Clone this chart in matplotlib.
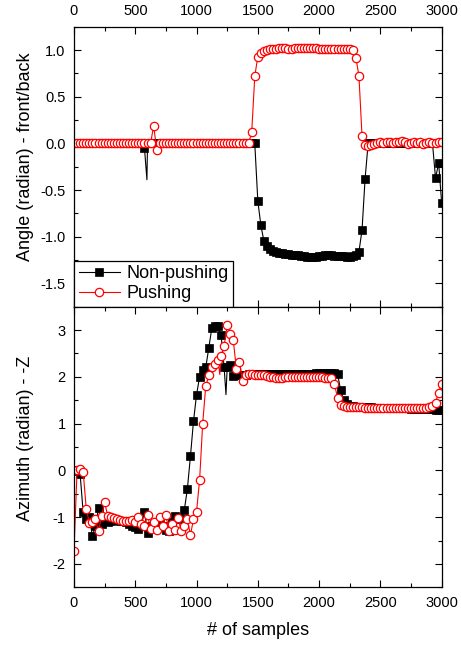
import numpy as np
import matplotlib
matplotlib.use("Agg")
import matplotlib.pyplot as plt
from matplotlib.ticker import MultipleLocator

plt.rcParams['font.family'] = ['Liberation Sans', 'DejaVu Sans']
plt.rcParams['axes.unicode_minus'] = False

# ---------------- data ----------------
# sample positions of the plotted points (every 25 samples)
samples = np.arange(0, 3001, 25)

# Top panel: Angle (radian) - front/back
angle_nonpushing = [
    0.0, 0.0, 0.0, 0.0, 0.0, 0.0, 0.0, 0.0, 0.0, 0.0,
    0.0, 0.0, 0.0, 0.0, 0.0, 0.0, 0.0, 0.0, 0.0, 0.0,
    0.0, 0.0, 0.0, -0.05,
    0.0, 0.0, 0.0, 0.0, 0.0, 0.0, 0.0, 0.0, 0.0, 0.0,
    0.0, 0.0, 0.0, 0.0, 0.0, 0.0, 0.0, 0.0, 0.0, 0.0,
    0.0, 0.0, 0.0, 0.0, 0.0, 0.0, 0.0, 0.0, 0.0, 0.0,
    0.0, 0.0, 0.0, 0.0, 0.0, 0.0,
    -0.62, -0.88, -1.05, -1.10, -1.13, -1.15, -1.16, -1.17, -1.18, -1.19,
    -1.19, -1.20, -1.20, -1.20, -1.21, -1.21, -1.22, -1.22, -1.22, -1.22,
    -1.21, -1.21, -1.20, -1.20, -1.20, -1.21, -1.21, -1.21, -1.21, -1.22,
    -1.22, -1.21, -1.20, -1.16, -0.93, -0.38,
    0.0, 0.0, 0.0, 0.0, 0.0, 0.0, 0.0, 0.0, 0.0, 0.0,
    0.0, 0.0, 0.0, 0.0, 0.0, 0.0, 0.0, 0.0, 0.0, 0.0,
    0.0, 0.0,
    -0.375, -0.21, -0.64,
]
angle_pushing = [
    0.0, 0.0, 0.0, 0.0, 0.0, 0.0, 0.0, 0.0, 0.0, 0.0,
    0.0, 0.0, 0.0, 0.0, 0.0, 0.0, 0.0, 0.0, 0.0, 0.0,
    0.0, 0.0, 0.0, 0.0, 0.0, 0.0,
    0.19, -0.07,
    0.0, 0.0, 0.0, 0.0, 0.0, 0.0, 0.0, 0.0, 0.0, 0.0,
    0.0, 0.0, 0.0, 0.0, 0.0, 0.0, 0.0, 0.0, 0.0, 0.0,
    0.0, 0.0, 0.0, 0.0, 0.0, 0.0, 0.0, 0.0, 0.0, 0.0,
    0.12, 0.72, 0.93, 0.97, 0.99, 1.00,
    1.01, 1.01, 1.01, 1.02, 1.02, 1.02, 1.01, 1.01, 1.02, 1.02,
    1.02, 1.02, 1.02, 1.02, 1.02, 1.02, 1.01, 1.01, 1.01, 1.01,
    1.01, 1.01, 1.01, 1.01, 1.01, 1.01, 1.01, 1.00,
    0.92, 0.72, 0.08, -0.02, -0.03, -0.02, -0.01,
    0.0, 0.01, 0.0, 0.01, 0.01, 0.0, 0.01, 0.02, 0.03, 0.02,
    -0.01, 0.0, 0.01, 0.0, 0.01, -0.01, 0.0, 0.01, 0.0, 0.0,
    0.01, 0.01,
]
# short spikes drawn by the line only (no marker): (sample, value)
angle_nonpushing_spike_x = [595]
angle_nonpushing_spike_y = [-0.39]

# Bottom panel: Azimuth (radian) - -Z
azimuth_nonpushing = [
    0.0, -0.02, -0.08, -0.90, -1.05, -1.00, -1.40, -1.20, -0.80, -1.15,
    -1.05, -1.10, -1.08, -1.05, -1.07, -1.08, -1.08, -1.10, -1.15, -1.20,
    -1.22, -1.25, -1.18, -0.88, -1.33, -1.20, -1.15, -1.10, -1.15, -1.20,
    -1.28, -1.30, -1.10, -0.98, -1.02, -1.05, -0.85, -0.40, 0.30, 1.05,
    1.62, 2.00, 2.15, 2.20, 2.62, 3.05, 3.08, 3.08, 2.90, 2.20,
    2.20, 2.25, 2.02,
    2.03, 2.04, 2.05, 2.05, 2.06, 2.06, 2.07, 2.07, 2.07, 2.07,
    2.07, 2.07, 2.07, 2.07, 2.07, 2.07, 2.07, 2.07, 2.07, 2.07,
    2.07, 2.07, 2.07, 2.07, 2.07, 2.07, 2.08, 2.08, 2.08, 2.08,
    2.08, 2.08, 2.08, 2.07,
    1.72, 1.50, 1.42, 1.38, 1.37,
    1.36, 1.36, 1.35, 1.35, 1.35, 1.35, 1.34, 1.34, 1.34, 1.34,
    1.34, 1.33, 1.33, 1.33, 1.33, 1.33, 1.33, 1.33, 1.32, 1.32,
    1.32, 1.32, 1.32, 1.32, 1.32, 1.31, 1.30, 1.30, 1.30,
]
azimuth_pushing = [
    -1.72, 0.0, 0.03, -0.03, -0.82, -1.12, -1.10, -1.05, -1.30, -0.98,
    -0.68, -0.98, -1.00, -1.02, -1.05, -1.07, -1.08, -1.08, -1.08, -1.06,
    -1.10, -1.00, -1.15, -1.20, -0.95, -1.25, -1.10, -1.28, -1.00, -1.20,
    -0.95, -1.30, -1.15, -1.28, -1.02, -1.30, -1.20, -1.05, -1.38, -1.05,
    -0.88, -0.20, 1.00, 1.80, 2.03, 2.21, 2.28, 2.35, 2.45, 2.66,
    3.10, 2.92, 2.78, 2.16, 2.32, 1.92, 2.05,
    2.06, 2.06, 2.05, 2.05, 2.04, 2.03, 2.02, 2.00, 1.99, 1.98,
    1.98, 1.98, 1.99, 2.00, 2.00, 2.00, 2.00, 2.00, 2.00, 2.00,
    2.00, 2.00, 2.00, 1.99, 1.99, 1.98, 1.97, 1.97,
    1.85, 1.55, 1.40, 1.37,
    1.36, 1.36, 1.35, 1.35, 1.35, 1.35, 1.34, 1.34, 1.34, 1.34,
    1.34, 1.34, 1.34, 1.33, 1.33, 1.33, 1.33, 1.33, 1.33, 1.33,
    1.33, 1.33, 1.33, 1.33, 1.33, 1.33, 1.34, 1.35, 1.37, 1.45,
    1.66, 1.85,
]
azimuth_nonpushing_spike_x = [1240]
azimuth_nonpushing_spike_y = [1.62]
azimuth_pushing_spike_x = [1190]
azimuth_pushing_spike_y = [2.05]

labels = ["Non-pushing", "Pushing"]
xticks = [0, 500, 1000, 1500, 2000, 2500, 3000]


def merged(xg, yg, sx=(), sy=()):
    xs = np.concatenate([np.asarray(xg, float), np.asarray(sx, float)])
    ys = np.concatenate([np.asarray(yg, float), np.asarray(sy, float)])
    grid = np.concatenate([np.ones(len(xg), bool), np.zeros(len(sx), bool)])
    order = np.argsort(xs, kind="stable")
    xs, ys, grid = xs[order], ys[order], grid[order]
    return xs, ys, list(np.nonzero(grid)[0])


fig = plt.figure(figsize=(4.61, 6.45), dpi=100)
ax1 = fig.add_axes([0.1605, 0.5245, 0.7976, 0.4341])
ax2 = fig.add_axes([0.1605, 0.0895, 0.7976, 0.4350])

black_kw = dict(color="black", lw=0.8, marker="s", ms=5.2, mfc="black",
                mec="black", mew=0.5)
red_kw = dict(color="#ff0000", lw=0.8, marker="o", ms=6.0, mfc="white",
              mec="#ff0000", mew=0.9)

x, y, me = merged(samples, angle_nonpushing, angle_nonpushing_spike_x,
                  angle_nonpushing_spike_y)
ax1.plot(x, y, markevery=me, label=labels[0], **black_kw)
x, y, me = merged(samples, angle_pushing)
ax1.plot(x, y, markevery=me, label=labels[1], **red_kw)

x, y, me = merged(samples, azimuth_nonpushing, azimuth_nonpushing_spike_x,
                  azimuth_nonpushing_spike_y)
ax2.plot(x, y, markevery=me, **black_kw)
x, y, me = merged(samples, azimuth_pushing, azimuth_pushing_spike_x,
                  azimuth_pushing_spike_y)
ax2.plot(x, y, markevery=me, **red_kw)

for ax in (ax1, ax2):
    ax.set_xlim(0, 3000)
    ax.set_xticks(xticks)
    ax.xaxis.set_minor_locator(MultipleLocator(250))
    ax.tick_params(which="both", direction="in", top=True, right=True,
                   bottom=True, left=True, labelsize=10.5, pad=6,
                   width=0.8)
    ax.tick_params(which="major", length=4.8)
    ax.tick_params(which="minor", length=2.6)
    for s in ax.spines.values():
        s.set_linewidth(0.9)

ax1.set_ylim(-1.75, 1.25)
ax1.yaxis.set_major_locator(MultipleLocator(0.5))
ax1.yaxis.set_minor_locator(MultipleLocator(0.25))
ax1.yaxis.set_major_formatter(matplotlib.ticker.FormatStrFormatter("%.1f"))
ax1.tick_params(axis="x", labeltop=True, labelbottom=False)
ax1.set_ylabel("Angle (radian) - front/back", fontsize=13)
ax1.yaxis.set_label_coords(-0.11, 0.536)

ax2.set_ylim(-2.5, 3.5)
ax2.yaxis.set_major_locator(MultipleLocator(1))
ax2.yaxis.set_minor_locator(MultipleLocator(0.5))
ax2.set_ylabel("Azimuth (radian) - -Z", fontsize=13)
ax2.yaxis.set_label_coords(-0.11, 0.532)
ax2.set_xlabel("# of samples", fontsize=13, labelpad=9)

leg = ax1.legend(loc="lower left", borderaxespad=0, fancybox=False,
                 edgecolor="black", framealpha=1, fontsize=13,
                 handlelength=2.3, handletextpad=0.35, borderpad=0.25,
                 labelspacing=0.15, numpoints=1)
leg.get_frame().set_linewidth(0.9)

fig.savefig("out.png", dpi=100)
